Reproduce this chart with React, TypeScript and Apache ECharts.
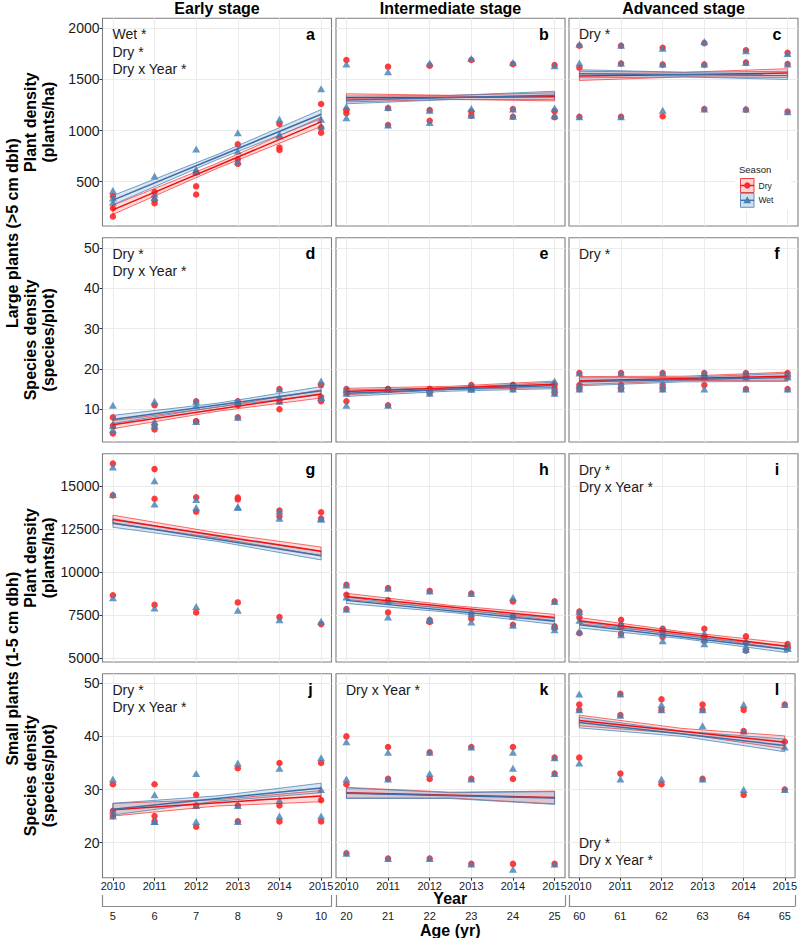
import React, { useEffect, useRef } from 'react';
import * as echarts from 'echarts';

// ---------------- data ----------------
const years = [2010, 2011, 2012, 2013, 2014, 2015];
const fitYears = [2010, 2015];
const bandYears = [2010, 2012.5, 2015];
const agesEarly = [5, 6, 7, 8, 9, 10];
const agesIntermediate = [20, 21, 22, 23, 24, 25];
const agesAdvanced = [60, 61, 62, 63, 64, 65];
const stageTitles = ['Early stage', 'Intermediate stage', 'Advanced stage'];

const rowMin = [67, 1.9, 4768, 13.4];
const rowMax = [2098, 52.5, 16875, 51.8];
const rowGridStep = [250, 5, 1250, 5];
const rowTicks = [
  [500, 1000, 1500, 2000],
  [10, 20, 30, 40, 50],
  [5000, 7500, 10000, 12500, 15000],
  [20, 30, 40, 50],
];

// panel a
const aDry = [[360, 240, 160], [400, 320, 290], [590, 455, 375], [865, 720, 675], [1065, 835, 810], [1260, 1030, 980]];
const aWet = [[415, 340, 300], [555, 380, 345], [820, 620, 600], [980, 800, 700], [1110, 965, 950], [1410, 1110, 1045]];
const aDryFit = [225, 1085];
const aWetFit = [320, 1160];
const aDryBand = [[180, 270], [630, 680], [1040, 1130]];
const aWetBand = [[275, 365], [715, 765], [1115, 1205]];
// panel b
const bDry = [[1690, 1200, 1170], [1625, 1220, 1055], [1635, 1200, 1095], [1690, 1185, 1145], [1650, 1210, 1135], [1640, 1190, 1130]];
const bWet = [[1650, 1235, 1125], [1575, 1225, 1055], [1660, 1200, 1080], [1705, 1215, 1150], [1665, 1210, 1140], [1635, 1220, 1145]];
const bDryFit = [1320, 1330];
const bWetFit = [1300, 1345];
const bDryBand = [[1280, 1360], [1305, 1345], [1290, 1370]];
const bWetBand = [[1262, 1338], [1303, 1343], [1305, 1385]];
// panel c
const cDry = [[1830, 1615, 1135], [1830, 1655, 1135], [1810, 1645, 1140], [1855, 1645, 1210], [1785, 1665, 1205], [1760, 1650, 1185]];
const cWet = [[1845, 1660, 1135], [1835, 1660, 1135], [1805, 1650, 1200], [1870, 1650, 1210], [1780, 1665, 1210], [1755, 1650, 1185]];
const cDryFit = [1535, 1562];
const cWetFit = [1555, 1540];
const cDryBand = [[1490, 1580], [1525, 1570], [1520, 1605]];
const cWetBand = [[1515, 1595], [1525, 1570], [1500, 1580]];
// panel d
const dDry = [[8, 6, 4], [11, 6, 5], [12, 7, 7], [12, 11, 8], [15, 12, 10], [16, 13, 12]];
const dWet = [[11, 6, 5], [12, 7, 6], [12, 11, 7], [12, 12, 8], [15, 13, 12], [17, 13, 13]];
const dDryFit = [6.2, 13.8];
const dWetFit = [7.5, 14.6];
const dDryBand = [[5.2, 7.2], [9.5, 10.5], [12.8, 14.8]];
const dWetBand = [[6.5, 8.5], [10.6, 11.5], [13.6, 15.6]];
// panel e
const eDry = [[15, 14, 12], [15, 15, 11], [15, 15, 14], [16, 15, 15], [16, 16, 15], [16, 15, 14]];
const eWet = [[15, 14, 11], [15, 15, 11], [15, 15, 14], [16, 15, 15], [16, 16, 15], [17, 15, 14]];
const eDryFit = [14.4, 16.2];
const eWetFit = [14.0, 15.9];
const eDryBand = [[13.6, 15.2], [14.9, 15.7], [15.4, 17.0]];
const eWetBand = [[13.2, 14.8], [14.5, 15.3], [15.1, 16.7]];
// panel f
const fDry = [[19, 16, 15], [19, 16, 15], [19, 16, 15], [19, 18, 16], [19, 18, 15], [19, 18, 15]];
const fWet = [[19, 16, 15], [19, 16, 15], [19, 16, 15], [19, 18, 15], [19, 18, 15], [19, 18, 15]];
const fDryFit = [17.1, 18.2];
const fWetFit = [16.8, 17.9];
const fDryBand = [[16.1, 18.1], [17.1, 18.2], [17.2, 19.2]];
const fWetBand = [[15.8, 17.8], [16.8, 17.9], [16.9, 18.9]];
// panel g
const gDry = [[16300, 14450, 8650], [15980, 14260, 8090], [14340, 13500, 7650], [14320, 14220, 8230], [13570, 13220, 7380], [13470, 13100, 6970]];
const gWet = [[16100, 14500, 8500], [15300, 13950, 7900], [14220, 13750, 8000], [13800, 13750, 7770], [13550, 13120, 7220], [13120, 13060, 7130]];
const gDryFit = [13050, 11200];
const gWetFit = [12850, 10950];
const gDryBand = [[12800, 13300], [11980, 12280], [10950, 11450]];
const gWetBand = [[12600, 13100], [11780, 12080], [10700, 11200]];
// panel h
const hDry = [[9250, 8680, 7850], [9060, 8350, 7650], [8900, 7200, 7090], [8750, 7570, 7280], [8290, 7420, 6930], [8290, 6840, 6750]];
const hWet = [[9250, 8550, 7840], [9060, 8350, 7380], [8900, 7250, 7190], [8750, 7570, 7090], [8520, 7420, 6900], [8290, 6840, 6640]];
const hDryFit = [8580, 7360];
const hWetFit = [8350, 7130];
const hDryBand = [[8400, 8760], [7880, 8060], [7180, 7540]];
const hWetBand = [[8170, 8530], [7650, 7830], [6950, 7310]];
// panel i
const iDry = [[7700, 7360, 6450], [7220, 6900, 6400], [6700, 6550, 6220], [6700, 6200, 6000], [6260, 5870, 5430], [5810, 5650, 5600]];
const iWet = [[7700, 7190, 6550], [7000, 6890, 6350], [6700, 6450, 6000], [6450, 6060, 5830], [6010, 5680, 5500], [5740, 5580, 5560]];
const iDryFit = [7170, 5680];
const iWetFit = [6930, 5490];
const iDryBand = [[6990, 7350], [6340, 6520], [5500, 5860]];
const iWetBand = [[6750, 7110], [6120, 6300], [5310, 5670]];
// panel j
const jDry = [[31, 26, 25], [31, 25, 24], [29, 27, 23], [34, 27, 24], [35, 27, 24], [35, 28, 24]];
const jWet = [[32, 26, 25], [29, 24, 24], [33, 27, 24], [35, 27, 24], [34, 28, 25], [36, 30, 25]];
const jDryFit = [26.2, 28.8];
const jWetFit = [26.3, 30.3];
const jDryBand = [[25.0, 27.4], [26.9, 28.1], [27.7, 29.8]];
const jWetBand = [[25.2, 27.4], [27.8, 28.8], [29.4, 31.2]];
// panel k
const kDry = [[40, 31, 18], [38, 32, 17], [37, 32, 17], [38, 32, 16], [38, 32, 16], [36, 33, 16]];
const kWet = [[39, 32, 18], [37, 32, 17], [37, 33, 17], [38, 32, 16], [37, 34, 15], [36, 33, 16]];
const kDryFit = [29.4, 28.5];
const kWetFit = [29.3, 28.4];
const kDryBand = [[28.4, 30.4], [28.4, 29.5], [27.3, 29.7]];
const kWetBand = [[28.3, 30.3], [28.3, 29.4], [27.2, 29.6]];
// panel l
const lDry = [[46, 45, 36], [48, 44, 33], [47, 45, 31], [46, 45, 32], [45, 41, 29], [46, 39, 30]];
const lWet = [[48, 45, 35], [48, 44, 32], [46, 45, 32], [45, 42, 32], [46, 41, 30], [46, 38, 30]];
const lDryFit = [43.0, 38.9];
const lWetFit = [42.6, 38.3];
const lDryBand = [[42.0, 44.0], [40.5, 41.5], [37.7, 40.1]];
const lWetBand = [[41.6, 43.6], [40.0, 41.0], [37.1, 39.5]];

const panels = [
  { letter: 'a', dry: aDry, wet: aWet, dryFit: aDryFit, wetFit: aWetFit, dryBand: aDryBand, wetBand: aWetBand, notes: ['Wet *', 'Dry *', 'Dry x Year *'], bottom: false },
  { letter: 'b', dry: bDry, wet: bWet, dryFit: bDryFit, wetFit: bWetFit, dryBand: bDryBand, wetBand: bWetBand, notes: [], bottom: false },
  { letter: 'c', dry: cDry, wet: cWet, dryFit: cDryFit, wetFit: cWetFit, dryBand: cDryBand, wetBand: cWetBand, notes: ['Dry *'], bottom: false },
  { letter: 'd', dry: dDry, wet: dWet, dryFit: dDryFit, wetFit: dWetFit, dryBand: dDryBand, wetBand: dWetBand, notes: ['Dry *', 'Dry x Year *'], bottom: false },
  { letter: 'e', dry: eDry, wet: eWet, dryFit: eDryFit, wetFit: eWetFit, dryBand: eDryBand, wetBand: eWetBand, notes: [], bottom: false },
  { letter: 'f', dry: fDry, wet: fWet, dryFit: fDryFit, wetFit: fWetFit, dryBand: fDryBand, wetBand: fWetBand, notes: ['Dry *'], bottom: false },
  { letter: 'g', dry: gDry, wet: gWet, dryFit: gDryFit, wetFit: gWetFit, dryBand: gDryBand, wetBand: gWetBand, notes: [], bottom: false },
  { letter: 'h', dry: hDry, wet: hWet, dryFit: hDryFit, wetFit: hWetFit, dryBand: hDryBand, wetBand: hWetBand, notes: [], bottom: false },
  { letter: 'i', dry: iDry, wet: iWet, dryFit: iDryFit, wetFit: iWetFit, dryBand: iDryBand, wetBand: iWetBand, notes: ['Dry *', 'Dry x Year *'], bottom: false },
  { letter: 'j', dry: jDry, wet: jWet, dryFit: jDryFit, wetFit: jWetFit, dryBand: jDryBand, wetBand: jWetBand, notes: ['Dry *', 'Dry x Year *'], bottom: false },
  { letter: 'k', dry: kDry, wet: kWet, dryFit: kDryFit, wetFit: kWetFit, dryBand: kDryBand, wetBand: kWetBand, notes: ['Dry x Year *'], bottom: false },
  { letter: 'l', dry: lDry, wet: lWet, dryFit: lDryFit, wetFit: lWetFit, dryBand: lDryBand, wetBand: lWetBand, notes: ['Dry *', 'Dry x Year *'], bottom: true },
];
const stageAges = [agesEarly, agesIntermediate, agesAdvanced];

// ---------------- layout & style ----------------
const FONT = '"Liberation Sans", Arial, Helvetica, sans-serif';
const colLeft = [102.5, 336, 569];
const colWidth = 229;
const rowTop = [18.3, 237.7, 453.7, 673.7];
const rowHeight = [207.7, 204.3, 208.3, 204];
const RED = '#FF2A2A';
const BLUE = '#4682B4';
const RED_LINE = '#EE1111';
const BLUE_LINE = '#3C6EA8';
const GRID_LINE = '#EBEBEB';
const TXT = '#1a1a1a';
const plain = (v: number) => String(v);

function buildOption() {
  const grid: any[] = [];
  const xAxis: any[] = [];
  const yAxis: any[] = [];
  const series: any[] = [];
  const graphic: any[] = [];

  panels.forEach((p, k) => {
    const r = Math.floor(k / 3);
    const c = k % 3;
    const left = colLeft[c];
    const top = rowTop[r];
    const h = rowHeight[r];
    grid.push({ left, top, width: colWidth, height: h, show: true, borderColor: '#7f7f7f', borderWidth: 1.1, backgroundColor: '#fff', containLabel: false });
    xAxis.push({
      type: 'value', gridIndex: k, min: 2009.75, max: 2015.25, minInterval: 0.5, maxInterval: 0.5,
      axisLine: { show: false },
      axisTick: { show: r === 3, length: 3, customValues: years, lineStyle: { color: '#333' } },
      axisLabel: { show: r === 3, customValues: years, formatter: plain, fontSize: 11, margin: 3, color: TXT, fontFamily: FONT },
      splitLine: { show: true, lineStyle: { color: GRID_LINE, width: 1 } },
    });
    yAxis.push({
      type: 'value', gridIndex: k, min: rowMin[r], max: rowMax[r], minInterval: rowGridStep[r], maxInterval: rowGridStep[r],
      axisLine: { show: false },
      axisTick: { show: c === 0, length: 3, customValues: rowTicks[r], lineStyle: { color: '#333' } },
      axisLabel: { show: c === 0, customValues: rowTicks[r], formatter: plain, fontSize: 14, margin: 3, color: TXT, fontFamily: FONT },
      splitLine: { show: true, lineStyle: { color: GRID_LINE, width: 1 } },
    });

    const toPts = (vals: number[][]) => years.flatMap((y, i) => vals[i].map((v) => [y, v]));
    series.push({ type: 'scatter', xAxisIndex: k, yAxisIndex: k, data: toPts(p.dry), symbol: 'circle', symbolSize: 6.5, itemStyle: { color: RED, opacity: 0.92 }, z: 2, silent: true });
    series.push({ type: 'scatter', xAxisIndex: k, yAxisIndex: k, data: toPts(p.wet), symbol: 'triangle', symbolSize: [8, 7], itemStyle: { color: BLUE, opacity: 0.82 }, z: 2, silent: true });

    const ribbon = (band: number[][], fill: string, stroke: string) => ({
      type: 'custom', coordinateSystem: 'cartesian2d', xAxisIndex: k, yAxisIndex: k, silent: true, z: 3,
      data: [[bandYears[0], band[0][0]]],
      renderItem: (_params: any, api: any) => {
        const upper = bandYears.map((x, i) => api.coord([x, band[i][1]]));
        const lower = bandYears.map((x, i) => api.coord([x, band[i][0]])).reverse();
        return { type: 'polygon', shape: { points: upper.concat(lower) }, style: { fill, stroke, lineWidth: 1 } };
      },
    });
    series.push(ribbon(p.dryBand, 'rgba(255,40,40,0.17)', 'rgba(238,17,17,0.6)'));
    series.push(ribbon(p.wetBand, 'rgba(70,130,180,0.2)', 'rgba(70,130,180,0.75)'));
    const fitLine = (fit: number[], color: string) => ({
      type: 'line', xAxisIndex: k, yAxisIndex: k, data: fitYears.map((x, i) => [x, fit[i]]), showSymbol: false, symbol: 'none', silent: true, z: 4,
      lineStyle: { color, width: 1.5 },
    });
    series.push(fitLine(p.dryFit, RED_LINE));
    series.push(fitLine(p.wetFit, BLUE_LINE));

    // annotations
    graphic.push({ type: 'text', x: left + colWidth - 21, y: top + 16, z: 20, style: { text: p.letter, fontSize: 16, fontWeight: 'bold', fontFamily: FONT, fill: '#000', textAlign: 'center', textVerticalAlign: 'middle', align: 'center', verticalAlign: 'middle' } });
    p.notes.forEach((n, i) => {
      const yy = p.bottom ? top + h - 17.5 * (p.notes.length - i) : top + 16 + 17.5 * i;
      graphic.push({ type: 'text', x: left + 10, y: yy, z: 20, style: { text: n, fontSize: 14, fontFamily: FONT, fill: TXT, textAlign: 'left', textVerticalAlign: 'middle', align: 'left', verticalAlign: 'middle' } });
    });
  });

  // age axes under bottom row
  stageAges.forEach((ages, c) => {
    xAxis.push({
      type: 'value', gridIndex: 9 + c, position: 'bottom', offset: 28.3,
      min: ages[0] - 0.25, max: ages[ages.length - 1] + 0.25,
      axisLine: { show: true, lineStyle: { color: '#8a8a8a', width: 1.2 } },
      axisTick: { show: true, inside: true, length: 11, customValues: [ages[0] - 0.25, ages[ages.length - 1] + 0.25], lineStyle: { color: '#8a8a8a', width: 1.2 } },
      axisLabel: { show: true, customValues: ages, formatter: plain, fontSize: 11, margin: 4, color: TXT, fontFamily: FONT },
      splitLine: { show: false },
    });
  });

  // facet titles
  stageTitles.forEach((t, c) => {
    graphic.push({ type: 'text', x: colLeft[c] + colWidth / 2, y: 8, style: { text: t, fontSize: 16, fontWeight: 'bold', fontFamily: FONT, fill: '#000', textAlign: 'center', textVerticalAlign: 'middle', align: 'center', verticalAlign: 'middle' } });
  });
  const rot = (text: string, x: number, y: number) => ({
    type: 'text', x, y, rotation: Math.PI / 2,
    style: { text, fontSize: 16, fontWeight: 'bold', fontFamily: FONT, fill: '#000', textAlign: 'center', textVerticalAlign: 'middle', align: 'center', verticalAlign: 'middle' },
  });
  const rowCenter = (r: number) => rowTop[r] + rowHeight[r] / 2;
  graphic.push(rot('Large plants (>5 cm dbh)', 12, (rowTop[0] + rowTop[1] + rowHeight[1]) / 2 + 3));
  graphic.push(rot('Small plants (1-5 cm dbh)', 12, (rowTop[2] + rowTop[3] + rowHeight[3]) / 2 + 3));
  graphic.push(rot('Plant density', 30, rowCenter(0)));
  graphic.push(rot('(plants/ha)', 48, rowCenter(0)));
  graphic.push(rot('Species density', 30, rowCenter(1)));
  graphic.push(rot('(species/plot)', 48, rowCenter(1)));
  graphic.push(rot('Plant density', 30, rowCenter(2)));
  graphic.push(rot('(plants/ha)', 48, rowCenter(2)));
  graphic.push(rot('Species density', 30, rowCenter(3)));
  graphic.push(rot('(species/plot)', 48, rowCenter(3)));

  const centerX = (colLeft[0] + colLeft[2] + colWidth) / 2;
  graphic.push({ type: 'text', x: centerX, y: 898.5, style: { text: 'Year', fontSize: 16, fontWeight: 'bold', fontFamily: FONT, fill: '#000', textAlign: 'center', textVerticalAlign: 'middle', align: 'center', verticalAlign: 'middle' } });
  graphic.push({ type: 'text', x: centerX, y: 930, style: { text: 'Age (yr)', fontSize: 16, fontWeight: 'bold', fontFamily: FONT, fill: '#000', textAlign: 'center', textVerticalAlign: 'middle', align: 'center', verticalAlign: 'middle' } });

  // legend (inside panel c)
  const lx = 740.5;
  graphic.push({ type: 'rect', shape: { x: 735, y: 160, width: 56, height: 50 }, style: { fill: '#fff' }, z: 10 });
  graphic.push({ type: 'text', x: 739, y: 169.5, z: 11, style: { text: 'Season', fontSize: 9.5, fontFamily: FONT, fill: TXT, textAlign: 'left', textVerticalAlign: 'middle', align: 'left', verticalAlign: 'middle' } });
  const keys = [
    { label: 'Dry', y: 178.5, fill: 'rgba(255,40,40,0.2)', stroke: 'rgba(238,17,17,0.8)', line: RED_LINE, pt: RED },
    { label: 'Wet', y: 193.3, fill: 'rgba(70,130,180,0.25)', stroke: 'rgba(70,130,180,0.85)', line: BLUE_LINE, pt: BLUE },
  ];
  keys.forEach((kk, i) => {
    const cy = kk.y + 7;
    graphic.push({ type: 'rect', z: 11, shape: { x: lx, y: kk.y, width: 13.5, height: 14 }, style: { fill: kk.fill, stroke: kk.stroke, lineWidth: 1 } });
    graphic.push({ type: 'line', z: 12, shape: { x1: lx, y1: cy, x2: lx + 13.5, y2: cy }, style: { stroke: kk.line, lineWidth: 1.4 } });
    if (i === 0) {
      graphic.push({ type: 'circle', z: 13, shape: { cx: lx + 6.75, cy, r: 3.2 }, style: { fill: kk.pt } });
    } else {
      graphic.push({ type: 'polygon', z: 13, shape: { points: [[lx + 6.75, cy - 4], [lx + 10.6, cy + 3], [lx + 2.9, cy + 3]] }, style: { fill: kk.pt } });
    }
    graphic.push({ type: 'text', z: 12, x: lx + 18, y: cy, style: { text: kk.label, fontSize: 8.5, fontFamily: FONT, fill: TXT, textAlign: 'left', textVerticalAlign: 'middle', align: 'left', verticalAlign: 'middle' } });
  });

  return {
    animation: false,
    backgroundColor: '#fff',
    textStyle: { fontFamily: FONT },
    grid, xAxis, yAxis, series, graphic,
  };
}

export default function App() {
  const ref = useRef<HTMLDivElement>(null);
  useEffect(() => {
    if (!ref.current) return;
    const chart = echarts.init(ref.current, undefined, { renderer: 'svg' });
    chart.setOption(buildOption() as any);
    return () => chart.dispose();
  }, []);
  return <div ref={ref} style={{ position: 'absolute', left: 0, top: 0, width: 800, height: 938 }} />;
}
